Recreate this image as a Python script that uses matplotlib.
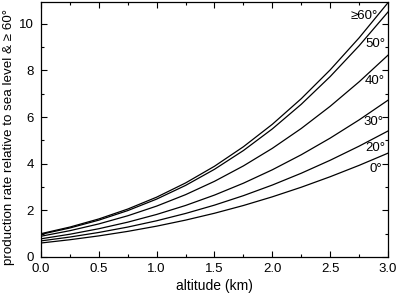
import numpy as np
import matplotlib
matplotlib.use('Agg')
import matplotlib.pyplot as plt
from matplotlib.ticker import MultipleLocator, FormatStrFormatter

plt.rcParams['font.family'] = ['Liberation Sans', 'DejaVu Sans']

# altitude (km) and production rate relative to sea level & >=60 deg
altitude = [0.0, 0.25, 0.5, 0.75, 1.0, 1.25, 1.5, 1.75, 2.0, 2.25, 2.5, 2.75, 3.0]
lat_60 = [1.000, 1.283, 1.631, 2.055, 2.565, 3.174, 3.890, 4.726, 5.688, 6.785, 8.019, 9.392, 10.90]
lat_50 = [0.970, 1.244, 1.580, 1.989, 2.482, 3.068, 3.759, 4.563, 5.490, 6.545, 7.732, 9.052, 10.50]
lat_40 = [0.890, 1.128, 1.418, 1.767, 2.182, 2.672, 3.244, 3.904, 4.657, 5.508, 6.459, 7.507, 8.650]
lat_30 = [0.780, 0.976, 1.212, 1.493, 1.824, 2.209, 2.654, 3.163, 3.738, 4.382, 5.095, 5.875, 6.720]
lat_20 = [0.690, 0.855, 1.052, 1.283, 1.553, 1.866, 2.223, 2.629, 3.084, 3.590, 4.146, 4.750, 5.400]
lat_0 = [0.600, 0.740, 0.905, 1.098, 1.322, 1.581, 1.875, 2.207, 2.579, 2.990, 3.440, 3.927, 4.450]

curves = [lat_60, lat_50, lat_40, lat_30, lat_20, lat_0]
labels = ['≥60°', '50°', '40°', '30°', '20°', '0°']
label_x = [2.915, 2.975, 2.975, 2.958, 2.975, 2.950]
label_y = [10.33, 9.13, 7.54, 5.79, 4.67, 3.77]

fig = plt.figure(figsize=(3.97, 2.97), dpi=100)
ax = fig.add_axes([0.1033, 0.1347, 0.874, 0.8586])

for vals in curves:
    ax.plot(altitude, vals, color='black', lw=0.9)

for lab, lx, ly in zip(labels, label_x, label_y):
    ax.text(lx, ly, lab, ha='right', va='center', fontsize=9.5)

ax.set_xlim(0, 3.0)
ax.set_ylim(0, 10.93)
ax.xaxis.set_major_locator(MultipleLocator(0.5))
ax.xaxis.set_minor_locator(MultipleLocator(0.25))
ax.yaxis.set_major_locator(MultipleLocator(2))
ax.yaxis.set_minor_locator(MultipleLocator(1))
ax.xaxis.set_major_formatter(FormatStrFormatter('%.1f'))
ax.tick_params(which='both', direction='in', top=True, right=True, labelsize=9.5, width=0.8)
ax.tick_params(which='major', length=4)
ax.tick_params(which='minor', length=2.2)
ax.tick_params(axis='x', which='major', pad=4.5)
ax.tick_params(axis='y', which='major', pad=5)
for s in ax.spines.values():
    s.set_linewidth(0.9)

ax.set_xlabel('altitude (km)', fontsize=10, labelpad=3)
ax.set_ylabel('production rate relative to sea level & ≥ 60°', fontsize=9.6, labelpad=2)
ax.yaxis.set_label_coords(-0.075, 0.47)

fig.savefig('out.png', dpi=100)
